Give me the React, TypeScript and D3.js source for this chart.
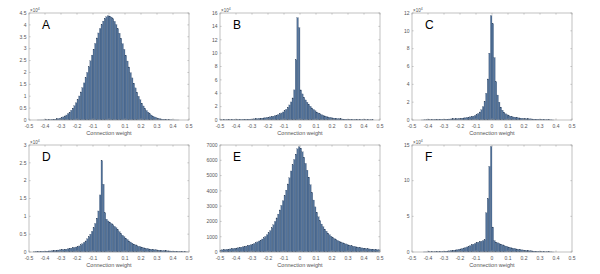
import React from "react";
import * as d3 from "d3";

const X_MIN = -0.5;
const BIN_WIDTH = 0.01;
const X_TICKS = [-0.5, -0.4, -0.3, -0.2, -0.1, 0, 0.1, 0.2, 0.3, 0.4, 0.5];
const X_LABEL = "Connection weight";

const countsA = [
  0, 0, 0, 0, 0, 0.0005, 0.001, 0.001, 0.002, 0.003,
  0.005, 0.007, 0.01, 0.014, 0.019, 0.026, 0.035, 0.047, 0.06, 0.08,
  0.1, 0.13, 0.17, 0.21, 0.27, 0.33, 0.41, 0.5, 0.6, 0.72,
  0.86, 1.01, 1.18, 1.36, 1.56, 1.78, 2.0, 2.24, 2.49, 2.73,
  2.98, 3.22, 3.45, 3.66, 3.85, 4.02, 4.16, 4.27, 4.34, 4.38,
  4.37, 4.33, 4.26, 4.15, 4.01, 3.84, 3.65, 3.44, 3.21, 2.97,
  2.72, 2.48, 2.23, 1.99, 1.77, 1.55, 1.35, 1.17, 1.0, 0.85,
  0.71, 0.59, 0.49, 0.4, 0.33, 0.26, 0.21, 0.16, 0.13, 0.1,
  0.08, 0.06, 0.046, 0.034, 0.025, 0.018, 0.013, 0.009, 0.006, 0.004,
  0.003, 0.002, 0.001, 0.001, 0, 0, 0, 0, 0, 0,
];
const countsB = [
  0.02, 0.02, 0.03, 0.03, 0.03, 0.04, 0.04, 0.05, 0.05, 0.06,
  0.06, 0.07, 0.07, 0.08, 0.09, 0.1, 0.11, 0.12, 0.13, 0.14,
  0.15, 0.17, 0.19, 0.21, 0.23, 0.25, 0.28, 0.31, 0.34, 0.38,
  0.42, 0.47, 0.52, 0.58, 0.65, 0.73, 0.82, 0.93, 1.05, 1.2,
  1.4, 1.6, 1.9, 2.25, 2.7, 3.3, 4.5, 9, 15.3, 13.8,
  4.5, 3.9, 3.4, 3.0, 2.65, 2.35, 2.05, 1.8, 1.58, 1.38,
  1.2, 1.05, 0.92, 0.8, 0.7, 0.61, 0.53, 0.46, 0.4, 0.35,
  0.31, 0.27, 0.24, 0.21, 0.19, 0.17, 0.15, 0.13, 0.12, 0.11,
  0.1, 0.09, 0.08, 0.07, 0.065, 0.06, 0.055, 0.05, 0.045, 0.04,
  0.035, 0.03, 0.03, 0.025, 0.02, 0.02, 0, 0, 0, 0,
];
const countsC = [
  0, 0, 0, 0, 0, 0, 0.005, 0.01, 0.015, 0.02,
  0.025, 0.03, 0.04, 0.05, 0.055, 0.06, 0.065, 0.07, 0.075, 0.08,
  0.09, 0.095, 0.1, 0.11, 0.12, 0.13, 0.14, 0.15, 0.16, 0.175,
  0.19, 0.21, 0.23, 0.25, 0.28, 0.31, 0.35, 0.39, 0.44, 0.51,
  0.6, 0.73, 0.9, 1.15, 1.5, 2.1, 3.0, 4.6, 7.5, 11.7,
  10.8, 7.0, 4.3, 2.8, 2.0, 1.45, 1.1, 0.88, 0.7, 0.58,
  0.5, 0.43, 0.38, 0.34, 0.3, 0.27, 0.24, 0.22, 0.2, 0.18,
  0.165, 0.15, 0.14, 0.13, 0.12, 0.11, 0.1, 0.095, 0.09, 0.085,
  0.07, 0.06, 0.05, 0.04, 0.03, 0.02, 0.015, 0.01, 0.005, 0,
  0, 0, 0, 0, 0, 0, 0, 0, 0, 0,
];
const countsD = [
  0, 0, 0, 0.005, 0.01, 0.01, 0.015, 0.015, 0.02, 0.02,
  0.025, 0.025, 0.03, 0.03, 0.035, 0.04, 0.045, 0.05, 0.055, 0.06,
  0.065, 0.07, 0.075, 0.08, 0.09, 0.1, 0.11, 0.12, 0.13, 0.14,
  0.15, 0.17, 0.2, 0.23, 0.27, 0.31, 0.37, 0.43, 0.5, 0.58,
  0.68, 0.8, 0.95, 1.15, 1.6, 2.56, 1.9, 1.1, 0.92, 0.87,
  0.84, 0.8, 0.76, 0.72, 0.68, 0.63, 0.57, 0.52, 0.47, 0.43,
  0.39, 0.35, 0.31, 0.28, 0.25, 0.22, 0.2, 0.18, 0.16, 0.15,
  0.135, 0.12, 0.11, 0.1, 0.09, 0.08, 0.075, 0.07, 0.065, 0.06,
  0.055, 0.05, 0.045, 0.04, 0.038, 0.035, 0.033, 0.03, 0.028, 0.025,
  0.022, 0.02, 0.018, 0.015, 0.012, 0.01, 0.008, 0.005, 0.003, 0,
];
const countsE = [
  130, 140, 150, 160, 170, 185, 200, 215, 230, 245,
  260, 280, 300, 320, 340, 365, 390, 420, 450, 475,
  510, 560, 610, 660, 720, 780, 850, 930, 1020, 1130,
  1250, 1400, 1580, 1780, 2000, 2230, 2480, 2750, 3050, 3350,
  3700, 4050, 4450, 4850, 5300, 5700, 6050, 6400, 6750, 6880,
  6800, 6550, 6200, 5800, 5350, 4900, 4400, 3900, 3400, 2950,
  2600, 2300, 2050, 1830, 1650, 1500, 1360, 1240, 1130, 1030,
  950, 880, 820, 760, 710, 660, 610, 570, 530, 495,
  460, 430, 400, 375, 350, 330, 310, 290, 270, 255,
  240, 225, 210, 200, 190, 180, 170, 160, 150, 140,
];
const countsF = [
  0, 0, 0, 0, 0, 0, 0, 0.005, 0.01, 0.01,
  0.015, 0.02, 0.025, 0.03, 0.035, 0.04, 0.05, 0.06, 0.07, 0.085,
  0.1, 0.12, 0.14, 0.16, 0.19, 0.22, 0.25, 0.29, 0.33, 0.38,
  0.43, 0.49, 0.56, 0.63, 0.71, 0.8, 0.9, 1.0, 1.1, 1.2,
  1.3, 1.37, 1.45, 1.52, 1.6, 1.7, 5.5, 7.5, 12, 14.8,
  3.5, 1.6, 1.4, 1.3, 1.2, 1.1, 1.0, 0.92, 0.84, 0.76,
  0.69, 0.63, 0.57, 0.52, 0.47, 0.42, 0.38, 0.34, 0.31, 0.28,
  0.25, 0.22, 0.2, 0.18, 0.16, 0.14, 0.12, 0.1, 0.085, 0.07,
  0.06, 0.05, 0.04, 0.03, 0.025, 0.02, 0.015, 0.01, 0.005, 0,
  0, 0, 0, 0, 0, 0, 0, 0, 0, 0,
];

const yTicksA = [0, 0.5, 1, 1.5, 2, 2.5, 3, 3.5, 4, 4.5];
const yTicksB = [0, 2, 4, 6, 8, 10, 12, 14, 16];
const yTicksC = [0, 2, 4, 6, 8, 10, 12];
const yTicksD = [0, 0.5, 1, 1.5, 2, 2.5, 3];
const yTicksE = [0, 1000, 2000, 3000, 4000, 5000, 6000, 7000];
const yTicksF = [0, 5, 10, 15];

const letters = ["A", "B", "C", "D", "E", "F"];
const exponents = ["4", "4", "4", "4", "", "4"];

const panels = [
  { counts: countsA, ticks: yTicksA },
  { counts: countsB, ticks: yTicksB },
  { counts: countsC, ticks: yTicksC },
  { counts: countsD, ticks: yTicksD },
  { counts: countsE, ticks: yTicksE },
  { counts: countsF, ticks: yTicksF },
];

const COL_X = [29, 220, 412];
const ROW_Y = [13, 145];
const PW = 160;
const PH = 107;
const FILL = "#52729a";
const EDGE = "#2f425c";
const AXIS = "#a6a6a6";
const TXT = "#555";
const FONT = "'Liberation Sans', Arial, sans-serif";

function fmtX(v: number) {
  const r = Math.round(v * 10) / 10;
  return r === 0 ? "0" : String(r);
}

function Panel({ idx }: { idx: number }) {
  const p = panels[idx];
  const x0 = COL_X[idx % 3];
  const y0 = ROW_Y[Math.floor(idx / 3)];
  const ymax = p.ticks[p.ticks.length - 1];
  const x = d3.scaleLinear().domain([-0.5, 0.5]).range([x0, x0 + PW]);
  const y = d3.scaleLinear().domain([0, ymax]).range([y0 + PH, y0]);
  const tl = 1.6;
  return (
    <g>
      <rect x={x0} y={y0} width={PW} height={PH} fill="#fff" />
      {p.counts.map((c, i) => {
        const a = X_MIN + i * BIN_WIDTH;
        const b = a + BIN_WIDTH;
        if (c <= 0) return null;
        return (
          <rect
            key={i}
            x={x(a)}
            y={y(c)}
            width={x(b) - x(a)}
            height={y(0) - y(c)}
            fill={FILL}
            stroke={EDGE}
            strokeWidth={0.2}
          />
        );
      })}
      <rect x={x0} y={y0} width={PW} height={PH} fill="none" stroke={AXIS} strokeWidth={0.7} />
      {X_TICKS.map((t, i) => (
        <g key={"xt" + i}>
          <line x1={x(t)} x2={x(t)} y1={y0 + PH} y2={y0 + PH - tl} stroke={AXIS} strokeWidth={0.6} />
          <line x1={x(t)} x2={x(t)} y1={y0} y2={y0 + tl} stroke={AXIS} strokeWidth={0.6} />
          <text x={x(t)} y={y0 + PH + 8} fontSize={5} fill={TXT} textAnchor="middle" fontFamily={FONT}>
            {fmtX(t)}
          </text>
        </g>
      ))}
      {p.ticks.map((t, i) => (
        <g key={"yt" + i}>
          <line x1={x0} x2={x0 + tl} y1={y(t)} y2={y(t)} stroke={AXIS} strokeWidth={0.6} />
          <line x1={x0 + PW} x2={x0 + PW - tl} y1={y(t)} y2={y(t)} stroke={AXIS} strokeWidth={0.6} />
          <text x={x0 - 2.5} y={y(t) + 1.8} fontSize={5} fill={TXT} textAnchor="end" fontFamily={FONT}>
            {String(t)}
          </text>
        </g>
      ))}
      {exponents[idx] && (
        <text x={x0 + 1} y={y0 - 1.5} fontSize={4.5} fill={TXT} fontFamily={FONT}>
          ×10
          <tspan dy={-2} fontSize={3.5}>
            {exponents[idx]}
          </tspan>
        </text>
      )}
      <text x={x0 + PW / 2} y={y0 + PH + 15} fontSize={5.5} fill={TXT} textAnchor="middle" fontFamily={FONT}>
        {X_LABEL}
      </text>
      <text x={x0 + 13} y={y0 + 16} fontSize={12} fill="#000" fontFamily={FONT}>
        {letters[idx]}
      </text>
    </g>
  );
}

export default function App() {
  return (
    <svg
      width={600}
      height={274}
      style={{ position: "absolute", left: 0, top: 0, background: "#fff" }}
    >
      <rect width={600} height={274} fill="#fff" />
      {panels.map((_, i) => (
        <Panel key={i} idx={i} />
      ))}
    </svg>
  );
}
